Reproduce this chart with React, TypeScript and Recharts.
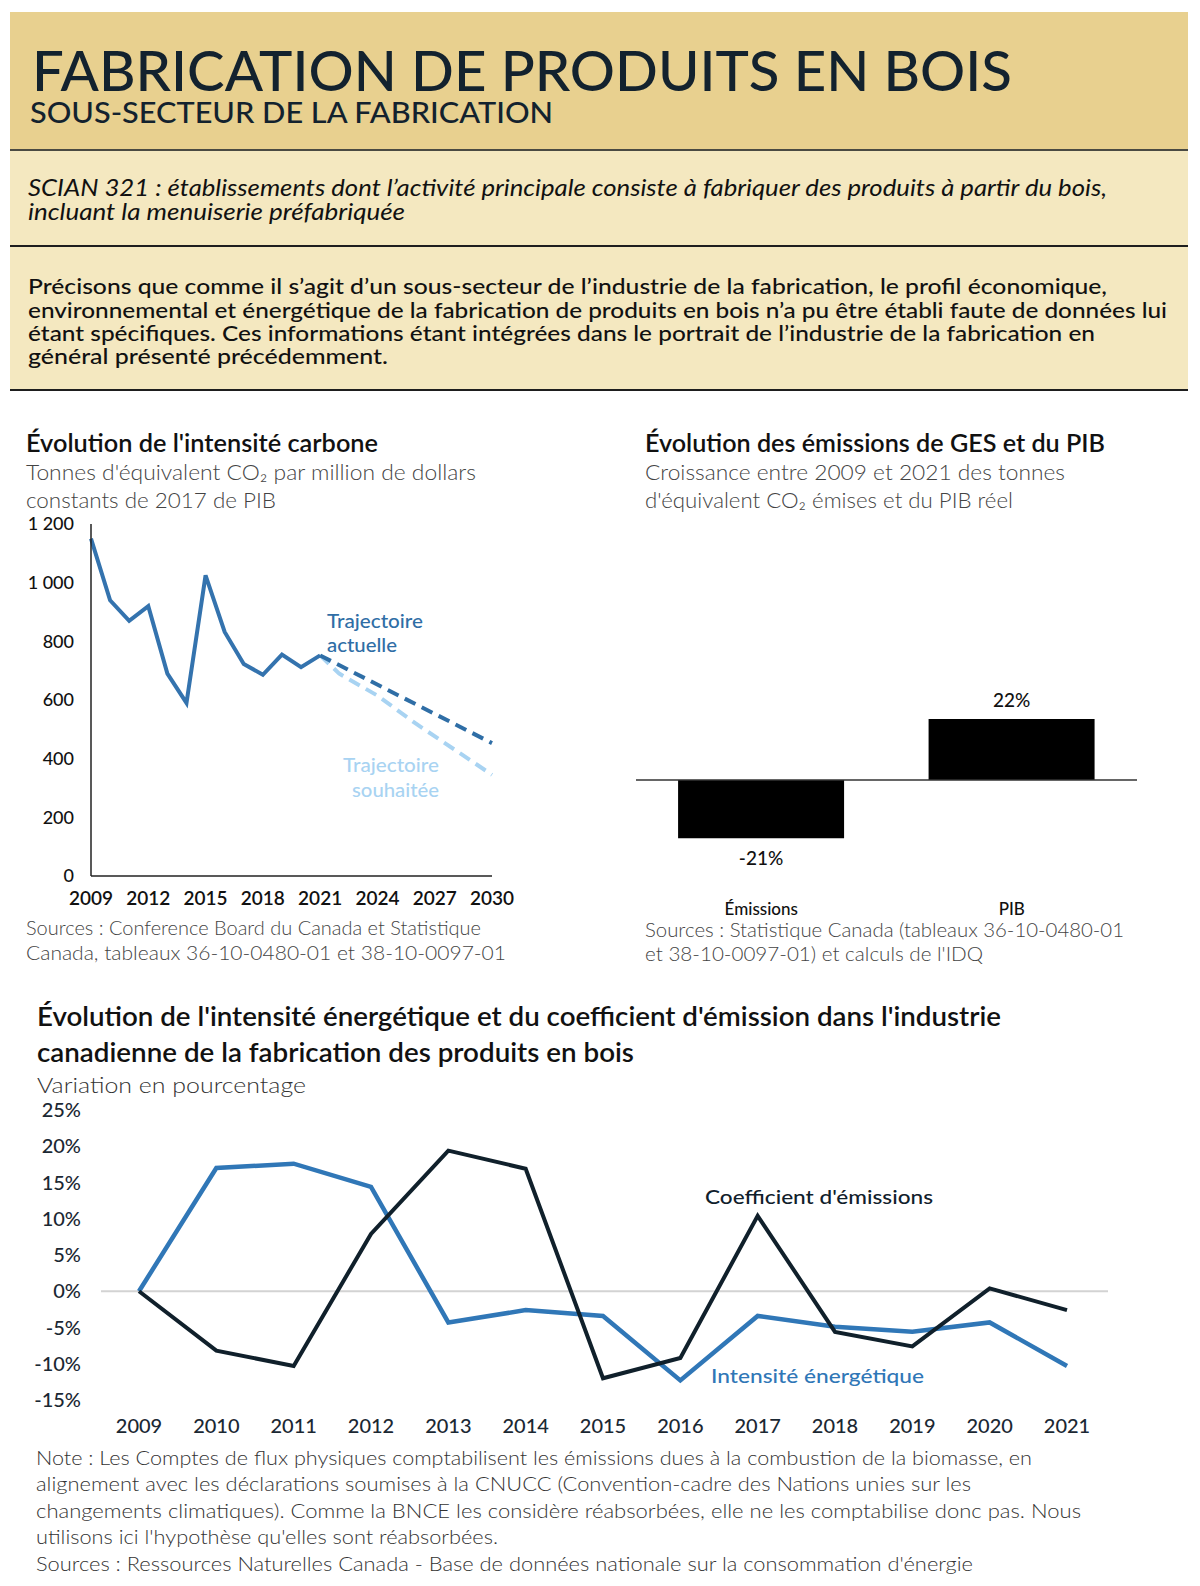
import React from "react";
import { Bar, BarChart, LabelList, Line, LineChart, ReferenceLine, XAxis, YAxis } from "recharts";

const FONT = "Lato, 'Open Sans', sans-serif";

// intensité carbone : t éq. CO2 par M$ de 2017 de PIB
const carbonYears = [2009, 2010, 2011, 2012, 2013, 2014, 2015, 2016, 2017, 2018, 2019, 2020, 2021];
const carbonActual = [1150, 940, 870, 920, 690, 590, 1025, 832, 723, 686, 755, 712, 752];
const currentPathYears = [2021, 2030];
const currentPath = [752, 453];
const desiredPathYears = [2021, 2022, 2024, 2026, 2030];
const desiredPath = [752, 690, 615, 520, 345];
const carbonXTicks = [2009, 2012, 2015, 2018, 2021, 2024, 2027, 2030];
const carbonYTicks = [0, 200, 400, 600, 800, 1000, 1200];

// croissance 2009-2021 (%)
const growthCategories = ["Émissions", "PIB"];
const growthValues = [-21, 22];

// variation en pourcentage
const energyYears = [2009, 2010, 2011, 2012, 2013, 2014, 2015, 2016, 2017, 2018, 2019, 2020, 2021];
const energyIntensity = [0, 17.0, 17.6, 14.4, -4.3, -2.6, -3.4, -12.3, -3.4, -4.9, -5.6, -4.3, -10.3];
const emissionCoef = [0, -8.2, -10.3, 7.9, 19.4, 16.9, -12.0, -9.2, 10.4, -5.6, -7.6, 0.4, -2.6];
const energyYTicks = [-15, -10, -5, 0, 5, 10, 15, 20, 25];

const pick = (ys: number[], vs: number[], y: number) => {
    const i = ys.indexOf(y);
    return i < 0 ? null : vs[i];
};

const carbonRows = Array.from(new Set([...carbonYears, ...currentPathYears, ...desiredPathYears]))
    .sort((a, b) => a - b)
    .map((year) => ({
        year,
        actual: pick(carbonYears, carbonActual, year),
        current: pick(currentPathYears, currentPath, year),
        desired: pick(desiredPathYears, desiredPath, year),
    }));

const growthRows = growthCategories.map((name, i) => ({ name, value: growthValues[i] }));

const energyRows = energyYears.map((year, i) => ({
    year,
    intensity: energyIntensity[i],
    coef: emissionCoef[i],
}));

const thousands = (v: number) => (v >= 1000 ? `${Math.floor(v / 1000)} ${String(v % 1000).padStart(3, "0")}` : `${v}`);

const T = ({ x, y, w, size, weight = 400, color = "#111", italic = false, children }: any) => (
    <text
        x={x}
        y={y}
        textLength={w}
        lengthAdjust="spacingAndGlyphs"
        fontSize={size}
        fontWeight={weight}
        fill={color}
        fontStyle={italic ? "italic" : "normal"}
    >
        {children}
    </text>
);

const BarValue = (props: any) => {
    const { x, y, width, height, value } = props;
    const top = Math.min(y, y + height);
    const bottom = Math.max(y, y + height);
    const ty = value >= 0 ? top - 12 : bottom + 27;
    return (
        <text x={x + width / 2} y={ty} textAnchor="middle" fontSize={19} fontWeight={500} fill="#111" fontFamily={FONT}>
            {`${value}%`}
        </text>
    );
};

const box = (left: number, top: number, width: number, height: number, bg: string): React.CSSProperties => ({
    position: "absolute",
    left,
    top,
    width,
    height,
    background: bg,
});

export default function App() {
    return (
        <div style={{ position: "absolute", left: 0, top: 0, width: 1200, height: 1586, background: "#fff", fontFamily: FONT }}>
            <div style={box(10, 12, 1178, 137, "#e8d08f")} />
            <div style={box(10, 149, 1178, 242, "#f4e8c0")} />
            <div style={box(10, 149, 1178, 2, "#4a4a42")} />
            <div style={box(10, 245, 1178, 2, "#1e1e1e")} />
            <div style={box(10, 389, 1178, 2, "#1e1e1e")} />

            <div style={{ position: "absolute", left: 0, top: 500 }}>
                <LineChart width={520} height={420} data={carbonRows} margin={{ top: 24, right: 28, bottom: 14, left: 31 }} style={{ fontFamily: FONT }}>
                    <XAxis
                        type="number"
                        dataKey="year"
                        domain={[2009, 2030]}
                        ticks={carbonXTicks}
                        interval={0}
                        height={30}
                        axisLine={{ stroke: "#222", strokeWidth: 1.5 }}
                        tickLine={false}
                        tickSize={0}
                        tickMargin={16}
                        tick={{ fontSize: 19, fontWeight: 600, fill: "#111" }}
                    />
                    <YAxis
                        domain={[0, 1200]}
                        ticks={carbonYTicks}
                        width={60}
                        axisLine={{ stroke: "#222", strokeWidth: 1.5 }}
                        tickLine={false}
                        tickSize={0}
                        tickMargin={17}
                        tickFormatter={thousands}
                        tick={{ fontSize: 18, fontWeight: 500, fill: "#111" }}
                    />
                    <Line dataKey="desired" stroke="#a8d3f2" strokeWidth={4} strokeDasharray="12 7" connectNulls dot={false} isAnimationActive={false} />
                    <Line dataKey="current" stroke="#2f6ea6" strokeWidth={4} strokeDasharray="12 7" connectNulls dot={false} isAnimationActive={false} />
                    <Line dataKey="actual" stroke="#3473ae" strokeWidth={4} dot={false} isAnimationActive={false} />
                </LineChart>
            </div>

            <div style={{ position: "absolute", left: 600, top: 520 }}>
                <BarChart width={600} height={420} data={growthRows} margin={{ top: 93.8, right: 63, bottom: 19.2, left: 36 }} barCategoryGap="16.8%" style={{ fontFamily: FONT }}>
                    <XAxis
                        dataKey="name"
                        height={30}
                        axisLine={false}
                        tickLine={false}
                        tickSize={0}
                        tickMargin={12}
                        tick={{ fontSize: 17, fontWeight: 500, fill: "#111" }}
                    />
                    <YAxis hide domain={[-40, 60]} />
                    <Bar dataKey="value" fill="#000" isAnimationActive={false}>
                        <LabelList dataKey="value" content={<BarValue />} />
                    </Bar>
                    <ReferenceLine y={0} stroke="#333" strokeWidth={1.5} />
                </BarChart>
            </div>

            <div style={{ position: "absolute", left: 0, top: 1090 }}>
                <LineChart width={1200} height={360} data={energyRows} margin={{ top: 20, right: 92, bottom: 20, left: 41 }} style={{ fontFamily: FONT }}>
                    <XAxis
                        type="number"
                        dataKey="year"
                        domain={[2009, 2021]}
                        ticks={energyYears}
                        interval={0}
                        padding={{ left: 38, right: 41 }}
                        height={30}
                        axisLine={false}
                        tickLine={false}
                        tickSize={0}
                        tickMargin={19}
                        tick={{ fontSize: 20, fontWeight: 500, fill: "#1b2833" }}
                    />
                    <YAxis
                        domain={[-15, 25]}
                        ticks={energyYTicks}
                        width={60}
                        axisLine={false}
                        tickLine={false}
                        tickSize={0}
                        tickMargin={20}
                        tickFormatter={(v: number) => `${v}%`}
                        tick={{ fontSize: 20, fontWeight: 500, fill: "#1b2833" }}
                    />
                    <ReferenceLine y={0} stroke="#d3d3d3" strokeWidth={2} />
                    <Line dataKey="intensity" stroke="#3077b7" strokeWidth={4.5} dot={false} isAnimationActive={false} />
                    <Line dataKey="coef" stroke="#10202b" strokeWidth={4} dot={false} isAnimationActive={false} />
                </LineChart>
            </div>

            <svg width={1200} height={1586} style={{ position: "absolute", left: 0, top: 0, pointerEvents: "none", fontFamily: FONT }}>
                <T x={32} y={91} w={980} size={55} weight={500} color="#13222e">FABRICATION DE PRODUITS EN BOIS</T>
                <T x={30} y={123} w={523} size={29} weight={500} color="#13222e">SOUS-SECTEUR DE LA FABRICATION</T>

                <T x={28} y={195.5} w={1079} size={22.5} italic>SCIAN 321 : établissements dont l’activité principale consiste à fabriquer des produits à partir du bois,</T>
                <T x={28} y={220} w={377} size={22.5} italic>incluant la menuiserie préfabriquée</T>

                <T x={28} y={293.5} w={1079} size={22} weight={500}>Précisons que comme  il s’agit d’un sous-secteur de l’industrie de la fabrication, le profil économique,</T>
                <T x={28} y={317.5} w={1139} size={22} weight={500}>environnemental et énergétique de la fabrication de produits en bois n’a pu être établi faute de données lui</T>
                <T x={28} y={340.5} w={1067} size={22} weight={500}>étant spécifiques. Ces informations étant intégrées dans le portrait de l’industrie de la fabrication en</T>
                <T x={28} y={363.5} w={360} size={22} weight={500}>général présenté précédemment.</T>

                <T x={26} y={452} w={352} size={24} weight={600}>Évolution de l'intensité carbone</T>
                <T x={26} y={480} w={450} size={21} weight={300} color="#444">Tonnes d'équivalent CO₂ par million de dollars</T>
                <T x={26} y={508} w={250} size={21} weight={300} color="#444">constants de 2017 de PIB</T>

                <T x={327} y={628} w={96} size={19} weight={500} color="#2f6ea6">Trajectoire</T>
                <T x={327} y={651.5} w={70} size={19} weight={500} color="#2f6ea6">actuelle</T>
                <T x={343} y={772} w={96} size={19} weight={500} color="#a8d3f2">Trajectoire</T>
                <T x={352} y={796.5} w={87} size={19} weight={500} color="#a8d3f2">souhaitée</T>

                <T x={26} y={935} w={455} size={19} weight={300} color="#444">Sources : Conference Board du Canada et Statistique</T>
                <T x={26} y={960} w={480} size={19} weight={300} color="#444">Canada, tableaux 36-10-0480-01 et 38-10-0097-01</T>

                <T x={645} y={452} w={460} size={24} weight={600}>Évolution des émissions de GES et du PIB</T>
                <T x={645} y={480} w={420} size={21} weight={300} color="#444">Croissance entre 2009 et 2021 des tonnes</T>
                <T x={645} y={508} w={368} size={21} weight={300} color="#444">d'équivalent CO₂ émises et du PIB réel</T>

                <T x={645} y={937} w={479} size={19} weight={300} color="#444">Sources : Statistique Canada (tableaux 36-10-0480-01</T>
                <T x={645} y={961} w={338} size={19} weight={300} color="#444">et 38-10-0097-01) et calculs de l'IDQ</T>

                <T x={37} y={1026} w={964} size={26} weight={600}>Évolution de l'intensité énergétique et du coefficient d'émission dans l'industrie</T>
                <T x={37} y={1062} w={597} size={26} weight={600}>canadienne de la fabrication des produits en bois</T>
                <T x={37} y={1093} w={269} size={22} weight={300} color="#333">Variation en pourcentage</T>

                <T x={705} y={1203.5} w={228} size={20} weight={500} color="#10202b">Coefficient d'émissions</T>
                <T x={711} y={1382.5} w={213} size={20} weight={500} color="#3077b7">Intensité énergétique</T>

                <T x={36} y={1464.5} w={996} size={20} weight={300} color="#333">Note : Les Comptes de flux physiques comptabilisent les émissions dues à la combustion de la biomasse, en</T>
                <T x={36} y={1490.5} w={935} size={20} weight={300} color="#333">alignement avec les déclarations soumises à la CNUCC (Convention-cadre des Nations unies sur les</T>
                <T x={36} y={1517.5} w={1045} size={20} weight={300} color="#333">changements climatiques). Comme la BNCE les considère réabsorbées, elle ne les comptabilise donc pas. Nous</T>
                <T x={36} y={1543.5} w={462} size={20} weight={300} color="#333">utilisons ici l'hypothèse qu'elles sont réabsorbées.</T>
                <T x={36} y={1570.5} w={937} size={20} weight={300} color="#333">Sources : Ressources Naturelles Canada - Base de données nationale sur la consommation d'énergie</T>
            </svg>
        </div>
    );
}
